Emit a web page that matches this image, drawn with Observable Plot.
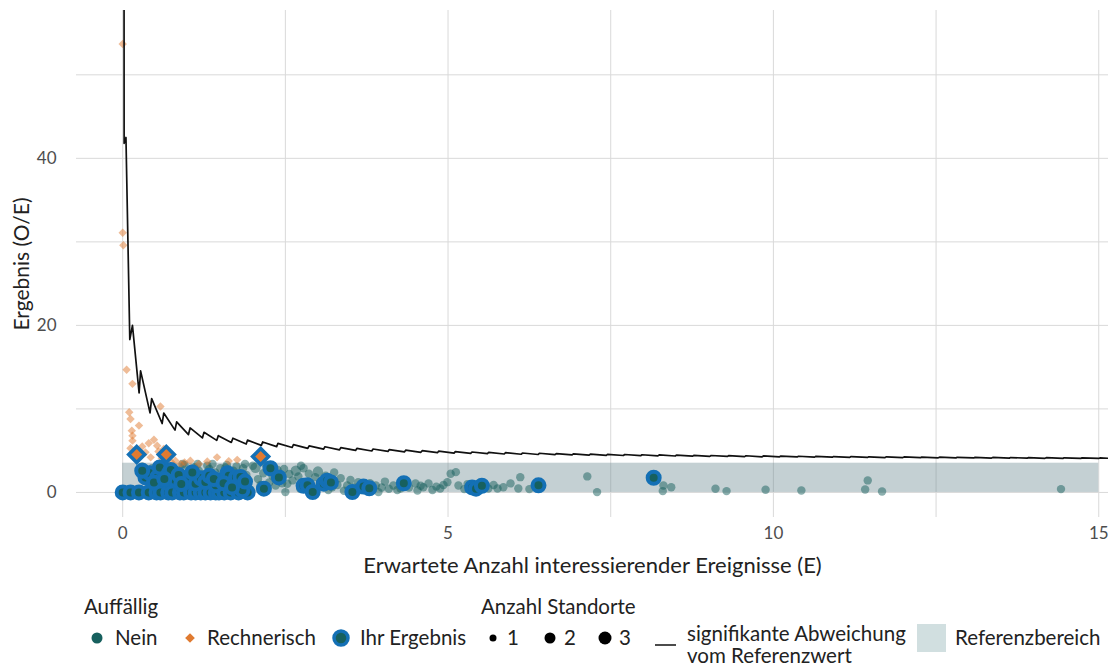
<!DOCTYPE html>
<html><head><meta charset="utf-8">
<script src="https://cdn.jsdelivr.net/npm/d3@7"></script>
<script src="https://cdn.jsdelivr.net/npm/@observablehq/plot@0.6"></script>
<style>
body{margin:0;background:#fff;font-family:Lato,sans-serif;}
#wrap{width:1117px;height:669px;position:relative;overflow:hidden;background:#fff;}
#wrap svg{display:block;}
</style></head><body><div id="wrap"></div>
<script>
// ---- data ----
const xTicks = [0, 5, 10, 15];
const xGrid = [0, 2.5, 5, 7.5, 10, 12.5, 15];
const yTicks = [0, 20, 40];
const yGrid = [0, 10, 20, 30, 40, 50];
const refX = [0, 15];
const refY = [0, 3.5];

// "Nein" hospitals: [E, O/E, Anzahl Standorte]
const nein = [
[0.30,3.1,1],[0.45,2.9,1],[0.62,3.3,1],[0.70,2.0,1],[0.85,2.7,1],[0.92,3.4,1],[1.00,2.2,1],[1.05,0.6,1],
[1.10,3.0,1],[1.17,2.6,1],[1.25,1.9,1],[1.30,3.2,1],[1.38,3.4,1],[1.42,2.4,1],[1.50,2.9,1],[1.55,1.5,1],
[1.60,3.3,1],[1.65,0.5,1],[1.70,2.6,1],[1.75,3.1,1],[1.80,1.2,1],[1.85,2.9,1],[1.90,2.1,1],[1.95,0.4,1],
[2.00,3.2,1],[2.04,2.96,2],[2.08,1.6,1],[2.12,0.9,1],[2.16,2.3,1],[2.20,3.3,1],[2.25,1.2,1],[2.30,2.0,1],
[2.35,0.84,1],[2.38,2.7,1],[2.45,1.1,1],[2.50,0.04,1],[2.53,1.04,1],[2.56,2.2,1],[2.61,1.44,1],[2.66,2.6,2],
[2.70,1.9,1],[2.73,0.44,1],[2.78,2.9,1],[2.82,1.2,1],[2.86,2.24,1],[2.90,0.6,1],[2.96,1.83,1],[3.00,2.5,2],
[3.03,1.1,1],[3.07,0.84,1],[3.12,2.0,1],[3.16,0.3,1],[3.20,1.44,1],[3.22,0.63,1],[3.25,2.4,1],[3.30,0.9,1],
[3.35,1.7,1],[3.40,0.2,1],[3.45,0.84,1],[3.50,1.5,1],[3.55,0.6,1],[3.62,1.23,1],[3.66,0.3,1],[3.72,0.9,1],
[3.80,1.1,1],[3.84,0.3,1],[3.89,0.84,1],[3.93,0.04,1],[3.98,0.6,1],[4.03,1.3,1],[4.09,0.44,1],[4.16,0.84,1],
[4.22,0.3,1],[4.27,0.48,1],[4.35,0.9,1],[4.40,0.6,1],[4.50,1.08,1],[4.53,0.24,1],[4.58,0.8,1],[4.62,0.63,1],
[4.70,1.08,1],[4.76,0.3,1],[4.82,0.7,1],[4.88,0.48,1],[4.93,0.9,1],[4.99,1.23,1],[5.04,2.24,1],[5.12,2.43,1],
[5.16,0.84,1],[5.25,0.4,1],[5.30,1.0,1],[5.62,0.48,1],[5.70,0.9,1],[5.76,0.48,1],[5.85,0.63,1],[5.96,1.08,1],
[6.08,0.48,1],[6.11,1.83,1],[6.25,0.4,1],[7.14,1.92,1],[7.29,0.04,1],[8.30,0.16,1],[8.31,0.84,1],[8.43,0.63,1],
[9.11,0.44,1],[9.28,0.16,1],[9.88,0.32,1],[10.43,0.24,1],[11.41,0.36,1],[11.45,1.44,1],[11.67,0.12,1],[14.42,0.4,1],
[0.95,3.3,1],[1.15,3.4,1],[1.33,2.8,1],[1.58,3.0,1],[1.88,3.4,1],[2.28,3.1,1],[2.48,2.8,1],[2.74,3.2,1]
];

// "Rechnerisch" hospitals: [E, O/E]
const rechnerisch = [
[0.00,53.7],[0.00,31.1],[0.01,29.6],[0.06,14.7],[0.15,13.0],[0.10,9.6],[0.12,8.8],[0.25,8.0],[0.14,7.4],
[0.15,6.8],[0.15,6.2],[0.58,10.3],[0.48,6.3],[0.53,5.6],[0.63,5.2],[0.43,4.2],[0.35,4.8],[0.70,4.6],
[0.75,3.6],[0.81,3.8],[0.89,3.4],[1.04,3.8],[1.17,3.4],[1.45,4.2],[1.63,3.75],[1.76,3.9],[0.12,5.3],[0.30,5.5],
[0.40,5.9],[0.55,4.9],[0.60,4.1],[0.95,3.6],[1.30,3.7]
];

// "Ihr Ergebnis" (own sites), not conspicuous: [E, O/E]
const ihrNein = [
[0.00,0],[0.12,0],[0.25,0],[0.40,0],[0.52,0],[0.58,0],[0.70,0],[0.76,0],[0.88,0],[0.94,0],[1.05,0],
[1.12,0],[1.20,0],[1.27,0],[1.35,0],[1.43,0],[1.48,0],[1.56,0],[1.66,0],[1.78,0],[1.92,0],
[0.35,1.8],[0.42,2.3],[0.53,1.8],[0.57,3.0],[0.71,2.3],[0.74,2.7],[0.81,1.45],[0.97,1.45],[1.01,1.4],
[1.12,1.05],[1.20,1.7],[1.27,1.25],[1.43,0.85],[1.50,1.45],[1.61,2.3],[1.63,2.0],[1.71,1.05],[1.74,1.8],
[1.81,1.85],[1.84,0.25],[2.17,0.45],[2.27,2.9],[2.40,1.8],[2.78,0.8],[2.84,0.85],[2.92,0.05],[3.09,1.05],
[3.14,1.4],[3.20,1.2],[3.53,0.05],[3.70,0.7],[3.79,0.5],[4.32,1.1],[5.37,0.6],[5.43,0.45],[5.52,0.8],
[6.39,0.85],[8.16,1.76],
[0.30,2.6],[0.48,1.2],[0.64,1.6],[0.86,2.1],[0.90,1.0],[1.07,2.4],[1.33,2.0],[1.40,1.6],[1.55,1.1],[1.68,0.6],[1.88,1.3]
];
// "Ihr Ergebnis", rechnerisch auffällig: [E, O/E]
const ihrRechnerisch = [[0.215,4.55],[0.67,4.55],[2.12,4.3]];

// significance limit (signifikante Abweichung vom Referenzwert): [E, O/E]
const sigLine = [
[0.003,333],[0.022,41.8],[0.05,42.5],[0.109,18.3],[0.15,20.0],
[0.252,11.92],[0.275,14.55],[0.420,9.52],[0.445,11.24],[0.606,8.25],[0.631,9.51],[0.804,7.46],[0.829,8.44],
[1.011,6.93],[1.036,7.72],[1.225,6.53],[1.25,7.20],[1.445,6.23],[1.47,6.80],[1.669,5.99],[1.694,6.49],
[1.898,5.80],[1.918,6.26],[2.131,5.63],[2.151,6.04],[2.366,5.49],[2.386,5.87],[2.604,5.38],[2.624,5.72],
[2.845,5.27],[2.865,5.58],[3.088,5.18],[3.108,5.47],[3.332,5.10],[3.352,5.37],[3.579,5.03],[3.599,5.28],
[3.828,4.96],[3.848,5.20],[4.077,4.91],[4.097,5.13],[4.329,4.85],[4.349,5.06],[4.582,4.80],[4.602,5.00],
[4.837,4.76],[4.857,4.94],[5.092,4.71],[5.112,4.89],[5.348,4.67],[5.368,4.84],[5.605,4.64],[5.625,4.80],
[5.864,4.60],[5.884,4.76],[6.123,4.57],[6.143,4.72],[6.383,4.54],[6.403,4.69],[6.644,4.52],[6.664,4.65],
[6.906,4.49],[6.926,4.62],[7.168,4.46],[7.188,4.59],[7.431,4.44],[7.451,4.56],[7.695,4.42],[7.715,4.54],
[7.960,4.40],[7.980,4.51],[8.225,4.38],[8.245,4.49],[8.490,4.36],[8.510,4.47],[8.757,4.34],[8.777,4.44],
[9.023,4.32],[9.043,4.42],[9.291,4.31],[9.311,4.40],[9.558,4.29],[9.578,4.39],[9.827,4.27],[9.847,4.37],
[10.095,4.26],[10.115,4.35],[10.365,4.25],[10.385,4.33],[10.634,4.23],[10.654,4.32],[10.905,4.22],[10.925,4.30],
[11.175,4.21],[11.195,4.29],[11.446,4.19],[11.466,4.27],[11.717,4.18],[11.737,4.26],[11.989,4.17],[12.009,4.25],
[12.260,4.16],[12.280,4.23],[12.533,4.15],[12.553,4.22],[12.806,4.14],[12.826,4.21],[13.079,4.13],[13.099,4.20],
[13.352,4.12],[13.372,4.19],[13.626,4.11],[13.646,4.18],[13.900,4.10],[13.920,4.17],[14.174,4.09],[14.194,4.16],
[14.449,4.08],[14.469,4.15],[14.724,4.08],[14.744,4.14],[14.998,4.07],[15.018,4.13],[15.15,4.09]
];

// legend labels
const legendAuff = ["Nein", "Rechnerisch", "Ihr Ergebnis"];
const legendSizes = [1, 2, 3];

// ---- styling ----
const TEAL = "#17605e", ORANGE = "#e07a30", BLUE = "#1470b5";
const sizeR = {1: 4.2, 2: 5.2, 3: 6.2};
const FONT = "Lato, 'Open Sans', sans-serif";

const plot = Plot.plot({
  width: 1117, height: 590,
  marginLeft: 76, marginRight: 9, marginTop: 10, marginBottom: 73,
  x: {domain: [-0.71, 15.15]},
  y: {domain: [-3, 57.7]},
  style: {fontFamily: FONT, fontSize: "17px", color: "#4d4d4d", background: "#fff"},
  marks: [
    Plot.gridX(xGrid, {stroke: "#d9d9d9", strokeOpacity: 1, strokeWidth: 1}),
    Plot.gridY(yGrid, {stroke: "#d9d9d9", strokeOpacity: 1, strokeWidth: 1}),
    Plot.rect([0], {x1: () => refX[0], x2: () => refX[1], y1: () => refY[0], y2: () => refY[1], fill: "#6b8a90", fillOpacity: 0.4}),
    ...[1, 2, 3].map(n => Plot.dot(nein.filter(d => d[2] === n), {x: d => d[0], y: d => d[1], r: sizeR[n], fill: TEAL, fillOpacity: 0.5})),
    Plot.dot(rechnerisch, {x: d => d[0], y: d => d[1], r: 3.8, symbol: "diamond2", fill: ORANGE, fillOpacity: 0.5}),
    Plot.line(sigLine, {x: d => d[0], y: d => d[1], stroke: "#111", strokeWidth: 1.7, clip: true}),
    Plot.dot(ihrNein, {x: d => d[0], y: d => d[1], r: 6, fill: TEAL, stroke: BLUE, strokeWidth: 4}),
    Plot.dot(ihrRechnerisch, {x: d => d[0], y: d => d[1], r: 7.2, symbol: "diamond2", fill: ORANGE, stroke: BLUE, strokeWidth: 3.6}),
    Plot.axisX(xTicks, {tickSize: 0, tickPadding: 9, label: null, fontSize: 17}),
    Plot.axisY(yTicks, {tickSize: 0, tickPadding: 20, label: null, fontSize: 17}),
    Plot.text(["Erwartete Anzahl interessierender Ereignisse (E)"], {frameAnchor: "bottom", dy: 48, fontSize: 22, fill: "#222", textAnchor: "middle", lineAnchor: "middle"}),
    Plot.text(["Ergebnis (O/E)"], {frameAnchor: "left", dx: -54, rotate: -90, fontSize: 21, fill: "#222", textAnchor: "middle", lineAnchor: "middle"})
  ]
});
document.getElementById("wrap").appendChild(plot);

// ---- legend below the plot ----
const L = d3.select("#wrap").append("svg").attr("width", 1117).attr("height", 79)
  .style("font-family", FONT).style("font-size", "20.5px");
const oy = 590;
const T = (x, y, s) => L.append("text").attr("x", x).attr("y", y - oy).attr("fill", "#222").text(s);
T(84, 614, "Auffällig");
// Nein
L.append("circle").attr("cx", 97).attr("cy", 638 - oy).attr("r", 5.5).attr("fill", TEAL);
T(115, 645, legendAuff[0]);
// Rechnerisch
L.append("path").attr("d", d3.symbol(d3.symbolDiamond2, 60)()).attr("transform", `translate(190,${638 - oy})`).attr("fill", ORANGE);
T(207, 645, legendAuff[1]);
// Ihr Ergebnis
L.append("circle").attr("cx", 341).attr("cy", 638 - oy).attr("r", 7).attr("fill", TEAL).attr("stroke", BLUE).attr("stroke-width", 3.5);
T(360, 645, legendAuff[2]);
// Anzahl Standorte
T(481, 614, "Anzahl Standorte");
const sx = [493, 550, 605], sr = [3.5, 5.5, 6.5];
legendSizes.forEach((n, i) => {
  L.append("circle").attr("cx", sx[i]).attr("cy", 638 - oy).attr("r", sr[i]).attr("fill", "#000");
  T(sx[i] + 14, 645, String(n));
});
// line
L.append("line").attr("x1", 655).attr("x2", 676).attr("y1", 645 - oy).attr("y2", 645 - oy).attr("stroke", "#111").attr("stroke-width", 1.5);
T(687, 641, "signifikante Abweichung");
T(687, 663, "vom Referenzwert");
// Referenzbereich
L.append("rect").attr("x", 917).attr("y", 624 - oy).attr("width", 29).attr("height", 28).attr("fill", "#d1dfe0");
T(955, 645, "Referenzbereich");
</script>
</body></html>
